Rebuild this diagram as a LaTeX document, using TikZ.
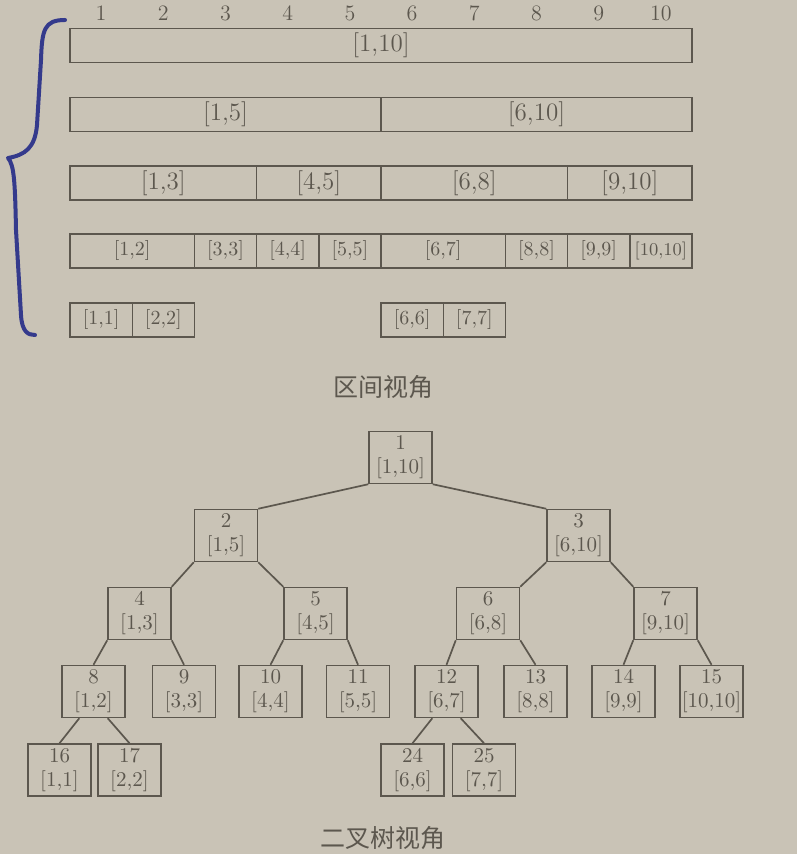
\documentclass[tikz,border=0pt]{standalone}
\usepackage{fontspec}
\newfontfamily\cjk{Noto Sans CJK SC}
\usepackage{tikz}
\definecolor{paper}{RGB}{201,195,182}
\definecolor{ink}{RGB}{92,87,78}
\definecolor{pen}{RGB}{52,58,140}

\begin{document}
\begin{tikzpicture}[x = 0.5pt, y = -0.5pt,
  colnum/.style = {text = ink, font = \fontsize{11}{12}\selectfont},
  cell/.style = {rectangle, draw = ink, line width = 0.7pt, minimum height = 17pt, inner sep = 0pt, text = ink, font = \fontsize{12.5}{13}\selectfont},
  small/.style = {font = \fontsize{10}{11}\selectfont},
  tnode/.style = {rectangle, draw = ink, line width = 0.75pt, minimum width = 31.5pt, minimum height = 26pt, inner sep = 0pt, align = center, text = ink, font = \fontsize{10.5}{12}\selectfont},
  edge/.style = {draw = ink, line width = 0.85pt},
  title/.style = {text = ink, font = \cjk\fontsize{12.5}{13}\selectfont}]
\fill[paper] (0,0) rectangle (797,854);
\useasboundingbox (0,0) rectangle (797,854);
% column numbers
\draw (101.1,13) node[colnum, name = c1]{1};
\draw (163.3,13) node[colnum, name = c2]{2};
\draw (225.5,13) node[colnum, name = c3]{3};
\draw (287.7,13) node[colnum, name = c4]{4};
\draw (349.9,13) node[colnum, name = c5]{5};
\draw (412.1,13) node[colnum, name = c6]{6};
\draw (474.3,13) node[colnum, name = c7]{7};
\draw (536.5,13) node[colnum, name = c8]{8};
\draw (598.7,13) node[colnum, name = c9]{9};
\draw (660.9,13) node[colnum, name = c10]{10};
% interval rows
\draw (381,45.5) node[cell, minimum width = 311pt, name = s1]{[1,10]};
\draw (225.5,114.5) node[cell, minimum width = 155.5pt, name = s2]{[1,5]};
\draw (536.5,114.5) node[cell, minimum width = 155.5pt, name = s3]{[6,10]};
\draw (163.3,183) node[cell, minimum width = 93.3pt, name = s4]{[1,3]};
\draw (318.8,183) node[cell, minimum width = 62.2pt, name = s5]{[4,5]};
\draw (474.3,183) node[cell, minimum width = 93.3pt, name = s6]{[6,8]};
\draw (629.8,183) node[cell, minimum width = 62.2pt, name = s7]{[9,10]};
\draw (132.2,251) node[cell, small, minimum width = 62.2pt, name = s8]{[1,2]};
\draw (225.5,251) node[cell, small, minimum width = 31.1pt, name = s9]{[3,3]};
\draw (287.7,251) node[cell, small, minimum width = 31.1pt, name = s10]{[4,4]};
\draw (349.9,251) node[cell, small, minimum width = 31.1pt, name = s11]{[5,5]};
\draw (443.2,251) node[cell, small, minimum width = 62.2pt, name = s12]{[6,7]};
\draw (536.5,251) node[cell, small, minimum width = 31.1pt, name = s13]{[8,8]};
\draw (598.7,251) node[cell, small, minimum width = 31.1pt, name = s14]{[9,9]};
\draw (660.9,251) node[cell, minimum width = 31.1pt, font = \fontsize{9}{10}\selectfont, name = s15]{[10,10]};
\draw (101.1,320) node[cell, small, minimum width = 31.1pt, name = s16]{[1,1]};
\draw (163.3,320) node[cell, small, minimum width = 31.1pt, name = s17]{[2,2]};
\draw (412.1,320) node[cell, small, minimum width = 31.1pt, name = s24]{[6,6]};
\draw (474.3,320) node[cell, small, minimum width = 31.1pt, name = s25]{[7,7]};
% hand drawn brace
\draw[pen, line width = 2pt, line cap = round, line join = round] (65,20) .. controls (44,20) and (42,30) .. (41,60) -- (37,125) .. controls (35,148) and (25,155) .. (8,158) .. controls (14,165) and (15,180) .. (16,230) -- (21,315) .. controls (22,332) and (28,335) .. (35,335);
\draw (383,387) node[title, name = top]{区间视角};
% tree
\draw (400.5,457.5) node[tnode, name = t1]{1\\{[1,10]}};
\draw (t1) + (-174.5,78) node[tnode, name = t2]{2\\{[1,5]}};
\draw (t1) + (178,78) node[tnode, name = t3]{3\\{[6,10]}};
\draw (t2) + (-86.5,78) node[tnode, name = t4]{4\\{[1,3]}};
\draw (t2) + (89.5,78) node[tnode, name = t5]{5\\{[4,5]}};
\draw (t3) + (-90.5,78) node[tnode, name = t6]{6\\{[6,8]}};
\draw (t3) + (87,78) node[tnode, name = t7]{7\\{[9,10]}};
\draw (t4) + (-46,78) node[tnode, name = t8]{8\\{[1,2]}};
\draw (t4) + (44.5,78) node[tnode, name = t9]{9\\{[3,3]}};
\draw (t5) + (-45,78) node[tnode, name = t10]{10\\{[4,4]}};
\draw (t5) + (42.5,78) node[tnode, name = t11]{11\\{[5,5]}};
\draw (t6) + (-41.5,78) node[tnode, name = t12]{12\\{[6,7]}};
\draw (t6) + (47.5,78) node[tnode, name = t13]{13\\{[8,8]}};
\draw (t7) + (-42,78) node[tnode, name = t14]{14\\{[9,9]}};
\draw (t7) + (46,78) node[tnode, name = t15]{15\\{[10,10]}};
\draw (t8) + (-34,78.5) node[tnode, name = t16]{16\\{[1,1]}};
\draw (t8) + (36,78.5) node[tnode, name = t17]{17\\{[2,2]}};
\draw (t12) + (-34,78.5) node[tnode, name = t24]{24\\{[6,6]}};
\draw (t12) + (37.5,78.5) node[tnode, name = t25]{25\\{[7,7]}};
\draw[edge] (t1.south west) -- (t2.north east);
\draw[edge] (t1.south east) -- (t3.north west);
\draw[edge] (t2.south west) -- (t4.north east);
\draw[edge] (t2.south east) -- (t5.north west);
\draw[edge] (t3.south west) -- (t6.north east);
\draw[edge] (t3.south east) -- (t7.north west);
\draw[edge] (t4.south west) -- (t8.north);
\draw[edge] (t4.south east) -- (t9.north);
\draw[edge] (t5.south west) -- (t10.north);
\draw[edge] (t5.south east) -- (t11.north);
\draw[edge] (t6.south west) -- (t12.north);
\draw[edge] (t6.south east) -- (t13.north);
\draw[edge] (t7.south west) -- (t14.north);
\draw[edge] (t7.south east) -- (t15.north);
\draw[edge] (t8.-118) -- (t16.north);
\draw[edge] (t8.-62) -- (t17.north);
\draw[edge] (t12.-118) -- (t24.north);
\draw[edge] (t12.-62) -- (t25.north);
\draw (383,838) node[title, name = bottom]{二叉树视角};
\end{tikzpicture}
\end{document}
